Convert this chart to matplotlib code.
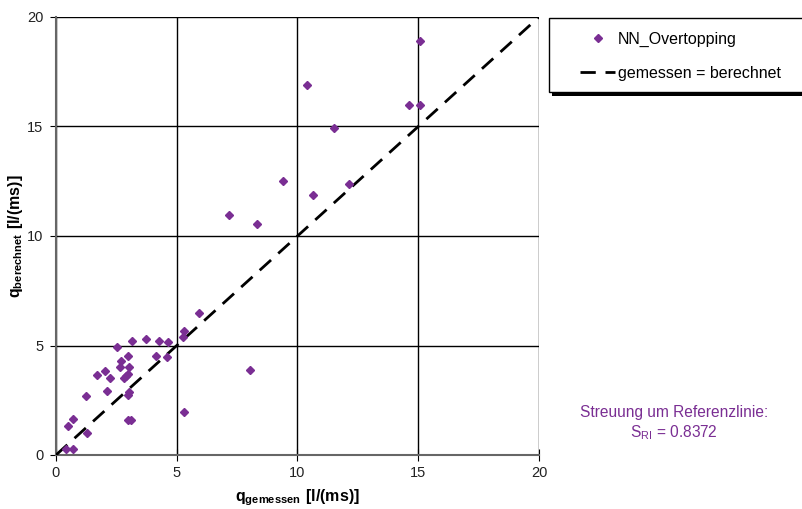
import matplotlib
matplotlib.use("Agg")
import matplotlib.pyplot as plt
from matplotlib.patches import Rectangle

plt.rcParams['font.family'] = ['Liberation Sans', 'DejaVu Sans']
plt.rcParams['mathtext.fontset'] = 'custom'
plt.rcParams['mathtext.rm'] = 'Liberation Sans'
plt.rcParams['mathtext.bf'] = 'Liberation Sans:bold'

# measured vs. computed overtopping discharge
q_gemessen = [10.40, 15.08, 14.63, 15.07, 11.52, 9.41, 10.63, 12.14, 7.16, 8.31,
              5.91, 5.30, 5.27, 4.65, 4.58, 8.05, 5.29, 3.13, 3.73, 4.27,
              2.54, 2.99, 4.13, 2.69, 2.64, 3.01, 2.03, 1.71, 2.22, 2.97,
              2.83, 2.90, 2.10, 3.02, 2.98, 1.26, 0.69, 0.48, 1.27, 0.41,
              0.69, 2.97, 3.11]
q_berechnet = [16.88, 18.89, 15.97, 16.00, 14.92, 12.50, 11.89, 12.37, 10.97, 10.56,
               6.50, 5.68, 5.39, 5.15, 4.46, 3.89, 1.95, 5.22, 5.31, 5.21,
               4.95, 4.53, 4.53, 4.29, 4.02, 4.03, 3.85, 3.65, 3.53, 3.70,
               3.53, 3.62, 2.92, 2.89, 2.74, 2.68, 1.64, 1.32, 1.02, 0.26,
               0.26, 1.58, 1.58]
ref_line = [0, 20]
ticks = [0, 5, 10, 15, 20]
s_ri = 0.8372

purple = '#7A2E93'
W, H = 803, 509

fig = plt.figure(figsize=(W / 100, H / 100), dpi=100)
ax = fig.add_axes([56 / W, 1 - 455 / H, (539 - 56) / W, (455 - 17) / H])

ax.plot(q_gemessen, q_berechnet, linestyle='none', marker='D', markersize=3.8,
        color=purple, label='NN_Overtopping', zorder=4)
ax.plot(ref_line, ref_line, color='black', linewidth=2, dashes=(5.5, 3.5),
        label='gemessen = berechnet', zorder=3)

ax.set_xlim(0, 20)
ax.set_ylim(0, 20)
ax.set_xticks(ticks)
ax.set_yticks(ticks)
ax.grid(True, color='black', linewidth=1, zorder=1)
ax.set_axisbelow(True)
for side in ['top', 'right']:
    ax.spines[side].set_visible(False)
for side in ['left', 'bottom']:
    ax.spines[side].set_color('#666666')
    ax.spines[side].set_linewidth(1.5)
ax.tick_params(axis='x', direction='inout', length=8, color='black',
               labelsize=10.5, labelcolor='#222222', pad=4)
ax.tick_params(axis='y', direction='out', length=4, color='black',
               labelsize=10.5, labelcolor='#222222', pad=5)

ax.set_xlabel(r'$\mathbf{q_{gemessen}\ [l/(ms)]}$', fontsize=11.5, labelpad=5)
ax.set_ylabel(r'$\mathbf{q_{berechnet}\ [l/(ms)]}$', fontsize=11.5)
ax.yaxis.set_label_coords(-0.064, 0.5)

# legend box with a hard drop shadow, drawn in figure pixels
fig.patches.append(Rectangle((552 / W, 1 - 96 / H), 260 / W, 78 / H,
                             transform=fig.transFigure, facecolor='black',
                             edgecolor='none', zorder=1))
fig.patches.append(Rectangle((549 / W, 1 - 92 / H), 260 / W, 74 / H,
                             transform=fig.transFigure, facecolor='white',
                             edgecolor='black', linewidth=1, zorder=2))

leg = fig.legend(loc='upper left', bbox_to_anchor=(580 / W, 1 - 32 / H),
                 fontsize=11.5, frameon=False, handlelength=2.2,
                 handletextpad=0.15, labelspacing=1.15, borderpad=0,
                 borderaxespad=0)
leg.set_zorder(3)

fig.text(674 / W, 1 - 412 / H, 'Streuung um Referenzlinie:', color=purple,
         fontsize=11.2, ha='center', va='center')
fig.text(674 / W, 1 - 433 / H, r'$\mathrm{S_{RI}}$ = ' + f'{s_ri:.4f}',
         color=purple, fontsize=11.2, ha='center', va='center')

fig.savefig('out.png', dpi=100)
